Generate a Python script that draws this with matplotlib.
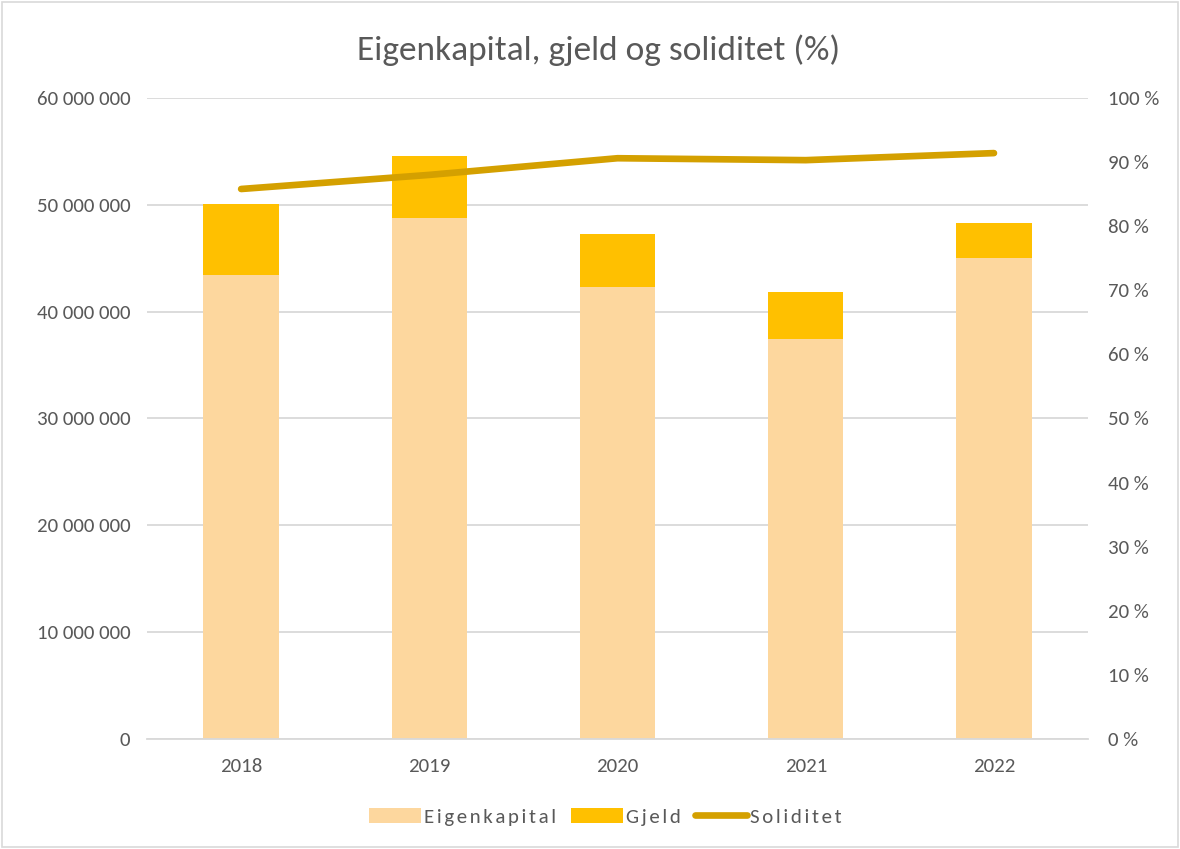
import matplotlib.pyplot as plt
from matplotlib.patches import Rectangle
from matplotlib.ticker import FuncFormatter, MultipleLocator

plt.rcParams["font.family"] = ["Carlito", "Liberation Sans Narrow", "DejaVu Sans"]

years = ["2018", "2019", "2020", "2021", "2022"]
eigenkapital = [43.4e6, 48.8e6, 42.3e6, 37.4e6, 45.0e6]
gjeld = [6.7e6, 5.8e6, 5.0e6, 4.4e6, 3.3e6]
soliditet = [85.8, 88.0, 90.6, 90.3, 91.4]

TEXT = "#595959"
C_EK = "#FDD79E"
C_GJ = "#FFC000"
C_SOL = "#D4A000"


def spaced(s):
    # excel legend text is letter-spaced; hair spaces between glyphs
    return "\u200a".join(s)


fig = plt.figure(figsize=(11.8, 8.49), dpi=100)
ax = fig.add_axes([0.1246, 0.1296, 0.7975, 0.755])
x = range(len(years))

ax.bar(x, eigenkapital, width=0.4, color=C_EK, label=spaced("Eigenkapital"), zorder=2)
ax.bar(x, gjeld, width=0.4, bottom=eigenkapital, color=C_GJ, label=spaced("Gjeld"), zorder=2)

ax.set_xlim(-0.5, 4.5)
ax.set_ylim(0, 60e6)
ax.yaxis.set_major_locator(MultipleLocator(10e6))
ax.yaxis.set_major_formatter(FuncFormatter(lambda v, p: f"{int(v):,}".replace(",", " ")))
ax.set_xticks(list(x))
ax.set_xticklabels(years)
ax.grid(axis="y", color="#d9d9d9", lw=1.3, zorder=0)
for s in ["top", "right", "left"]:
    ax.spines[s].set_visible(False)
ax.spines["bottom"].set_color("#d9d9d9")
ax.spines["bottom"].set_linewidth(1.3)
ax.tick_params(axis="both", length=0, labelsize=15, colors=TEXT, pad=12)
ax.tick_params(axis="x", pad=14)

ax2 = ax.twinx()
ax2.plot(x, soliditet, color=C_SOL, lw=4.8, solid_capstyle="round",
         label=spaced("Soliditet"), zorder=3)
ax2.set_ylim(0, 100)
ax2.yaxis.set_major_locator(MultipleLocator(10))
ax2.yaxis.set_major_formatter(FuncFormatter(lambda v, p: f"{int(v)} %"))
for s in ["top", "right", "left", "bottom"]:
    ax2.spines[s].set_visible(False)
ax2.tick_params(axis="y", length=0, labelsize=15, colors=TEXT, pad=14)

fig.text(0.507, 0.941, "Eigenkapital, gjeld og soliditet (%)", ha="center", va="center",
         fontsize=25.5, color=TEXT)

h1, l1 = ax.get_legend_handles_labels()
h2, l2 = ax2.get_legend_handles_labels()
fig.legend(h1 + h2, l1 + l2, loc="center", bbox_to_anchor=(0.513, 0.038), ncol=3,
           frameon=False, fontsize=15, labelcolor=TEXT, handlelength=2.5,
           handletextpad=0.15, columnspacing=0.7)

fig.patches.append(Rectangle((0.002, 0.002), 0.996, 0.996, transform=fig.transFigure,
                             fill=False, edgecolor="#d9d9d9", lw=1.2))

fig.savefig("out.png", dpi=100)
